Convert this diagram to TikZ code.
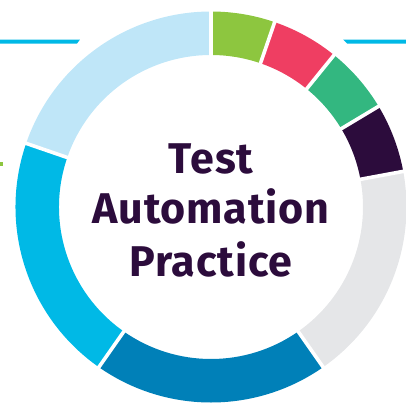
\documentclass[tikz,border=0pt]{standalone}
\usepackage{xcolor}
\usepackage{fontspec}
\setmainfont{Fira Sans}
\usepackage{tikz}
\usetikzlibrary{calc,positioning}
\definecolor{lightblu}{RGB}{191,230,248}
\definecolor{cyanblu}{RGB}{0,185,230}
\definecolor{darkblu}{RGB}{0,128,184}
\definecolor{greyseg}{RGB}{229,230,232}
\definecolor{purpleind}{RGB}{44,12,60}
\definecolor{greenteal}{RGB}{51,183,128}
\definecolor{redorg}{RGB}{239,62,98}
\definecolor{greenlim}{RGB}{141,198,63}

\begin{document}
\begin{tikzpicture}[x=1pt,y=1pt,
  mytext/.style={anchor=base,text=purpleind,inner sep=0pt,font=\fontsize{43}{52}\selectfont\bfseries\addfontfeatures{LetterSpace=2}},
  mygap/.style={draw=white,line width=3.6pt},
  mybar/.style={fill=cyanblu}
]
\useasboundingbox (-211,-198) rectangle (195,207);

% ring segments: start/end/colour
\foreach \a/\b/\c in {71/90/greenlim, 51/71/redorg, 31/51/greenteal, 10.5/31/purpleind,
  -55/10.5/greyseg, -125/-55/darkblu, 161/235/cyanblu, 90/161/lightblu}{
\fill[\c] (\a:195.5) arc[start angle=\a, end angle=\b, radius=195.5]
  -- (\b:152) arc[start angle=\b, end angle=\a, radius=152] -- cycle;
}
\foreach \a in {90,71,51,31,10.5,-55,-125,161}{
\draw[mygap] (\a:148) -- (\a:199);
}

% side bars
\fill[mybar] (-211,167.5) -- (-131,167.5) -- (-134,163.5) -- (-211,163.5) -- cycle;
\fill[mybar] (132,167.5) -- (195,167.5) -- (195,163.5) -- (136,163.5) -- cycle;
\fill[greenlim] (-211,45.3) rectangle (-207.7,41.3);

\node[mytext] (T1) at (0,34) {Test};
\node[mytext] (T2) at (0,-16) {Automation};
\node[mytext] (T3) at (0,-69) {Practice};

\end{tikzpicture}
\end{document}
